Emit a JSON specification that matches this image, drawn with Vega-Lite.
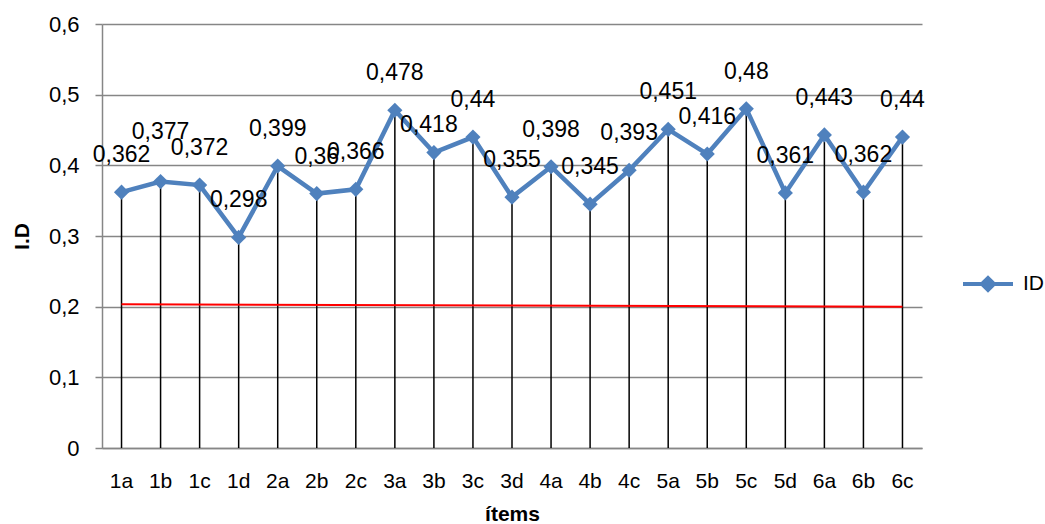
{
  "$schema": "https://vega.github.io/schema/vega-lite/v6.json",
  "width": 820,
  "height": 424,
  "autosize": {"type": "none"},
  "padding": {"left": 102, "top": 24, "right": 123, "bottom": 76},
  "background": "white",
  "config": {
    "font": "Liberation Sans",
    "view": {"stroke": null},
    "locale": {"number": {"decimal": ",", "thousands": ".", "grouping": [3], "currency": ["", " €"]}}
  },
  "datasets": {
    "main": [
      {"item": "1a", "id": 0.362, "serie": "ID"},
      {"item": "1b", "id": 0.377, "serie": "ID"},
      {"item": "1c", "id": 0.372, "serie": "ID"},
      {"item": "1d", "id": 0.298, "serie": "ID"},
      {"item": "2a", "id": 0.399, "serie": "ID"},
      {"item": "2b", "id": 0.36, "serie": "ID"},
      {"item": "2c", "id": 0.366, "serie": "ID"},
      {"item": "3a", "id": 0.478, "serie": "ID"},
      {"item": "3b", "id": 0.418, "serie": "ID"},
      {"item": "3c", "id": 0.44, "serie": "ID"},
      {"item": "3d", "id": 0.355, "serie": "ID"},
      {"item": "4a", "id": 0.398, "serie": "ID"},
      {"item": "4b", "id": 0.345, "serie": "ID"},
      {"item": "4c", "id": 0.393, "serie": "ID"},
      {"item": "5a", "id": 0.451, "serie": "ID"},
      {"item": "5b", "id": 0.416, "serie": "ID"},
      {"item": "5c", "id": 0.48, "serie": "ID"},
      {"item": "5d", "id": 0.361, "serie": "ID"},
      {"item": "6a", "id": 0.443, "serie": "ID"},
      {"item": "6b", "id": 0.362, "serie": "ID"},
      {"item": "6c", "id": 0.44, "serie": "ID"}
    ],
    "ref": [
      {"item": "1a", "id": 0.2033},
      {"item": "6c", "id": 0.2}
    ]
  },
  "layer": [
    {
      "data": {"name": "main"},
      "mark": {"type": "rule", "color": "black", "strokeWidth": 1.5},
      "encoding": {
        "x": {
          "field": "item", "type": "nominal", "sort": null,
          "scale": {"paddingInner": 0, "paddingOuter": 0},
          "axis": {
            "title": "ítems", "titleFontSize": 21, "titleFontWeight": "bold", "titlePadding": 12,
            "labelFontSize": 21, "labelAngle": 0, "labelPadding": 22, "labelColor": "black",
            "ticks": false, "domainColor": "#868686", "domainWidth": 1.5
          }
        },
        "y": {
          "field": "id", "type": "quantitative",
          "scale": {"domain": [0, 0.6], "nice": false},
          "axis": {
            "title": "I.D", "titleFontSize": 21, "titleFontWeight": "bold", "titlePadding": 16,
            "values": [0, 0.1, 0.2, 0.3, 0.4, 0.5, 0.6], "format": "~g",
            "labelFontSize": 22, "labelColor": "black", "labelPadding": 16,
            "tickSize": 7, "tickColor": "#868686", "tickWidth": 1.5,
            "domainColor": "#868686", "domainWidth": 1.5,
            "grid": true, "gridColor": "#868686", "gridWidth": 1.5
          }
        },
        "y2": {"datum": 0}
      }
    },
    {
      "data": {"name": "ref"},
      "mark": {"type": "line", "color": "#FF0000", "strokeWidth": 2},
      "encoding": {
        "x": {"field": "item", "type": "nominal", "sort": null},
        "y": {"field": "id", "type": "quantitative"}
      }
    },
    {
      "data": {"name": "main"},
      "mark": {"type": "line", "strokeWidth": 4.5, "point": {"shape": "diamond", "size": 230, "filled": true}},
      "encoding": {
        "x": {"field": "item", "type": "nominal", "sort": null},
        "y": {"field": "id", "type": "quantitative"},
        "color": {
          "field": "serie", "type": "nominal",
          "scale": {"domain": ["ID"], "range": ["#4F81BD"]},
          "legend": {
            "title": null, "orient": "none", "legendX": 859, "legendY": 233,
            "labelFontSize": 21, "labelColor": "black", "labelOffset": 8,
            "symbolType": "M-1,0H1M-0.24,0L0,-0.24L0.24,0L0,0.24Z",
            "symbolSize": 2500, "symbolStrokeWidth": 4,
            "symbolFillColor": "#4F81BD", "symbolStrokeColor": "#4F81BD",
            "encode": {"symbols": {"update": {
              "fill": {"value": "#4F81BD"}, "stroke": {"value": "#4F81BD"},
              "strokeWidth": {"value": 4},
              "shape": {"value": "M-1,0H1M-0.24,0L0,-0.24L0.24,0L0,0.24Z"},
              "size": {"value": 2500}
            }}}
          }
        }
      }
    },
    {
      "data": {"name": "main"},
      "transform": [{"filter": "datum.item != '1b' && datum.item != '3b'"}],
      "mark": {"type": "text", "fontSize": 23, "baseline": "alphabetic", "dy": -30, "color": "black"},
      "encoding": {
        "x": {"field": "item", "type": "nominal", "sort": null},
        "y": {"field": "id", "type": "quantitative"},
        "text": {"field": "id", "type": "quantitative", "format": "~g"}
      }
    },
    {
      "data": {"name": "main"},
      "transform": [{"filter": "datum.item == '1b'"}],
      "mark": {"type": "text", "fontSize": 23, "baseline": "alphabetic", "dy": -43, "color": "black"},
      "encoding": {
        "x": {"field": "item", "type": "nominal", "sort": null},
        "y": {"field": "id", "type": "quantitative"},
        "text": {"field": "id", "type": "quantitative", "format": "~g"}
      }
    },
    {
      "data": {"name": "main"},
      "transform": [{"filter": "datum.item == '3b'"}],
      "mark": {"type": "text", "fontSize": 23, "baseline": "alphabetic", "dy": -21, "dx": -5, "color": "black"},
      "encoding": {
        "x": {"field": "item", "type": "nominal", "sort": null},
        "y": {"field": "id", "type": "quantitative"},
        "text": {"field": "id", "type": "quantitative", "format": "~g"}
      }
    }
  ]
}
